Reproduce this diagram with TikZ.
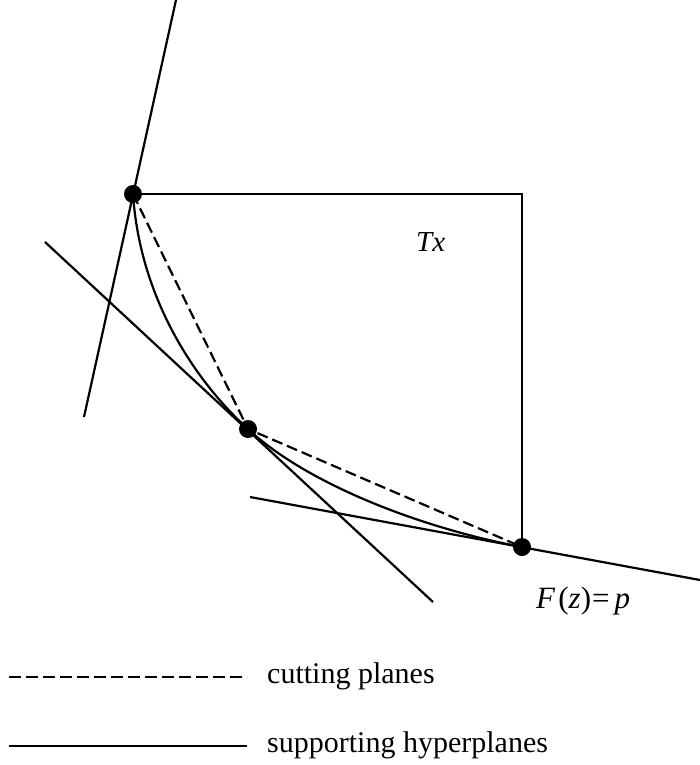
\documentclass[tikz,border=0pt]{standalone}
\usepackage{fontspec}
\setmainfont{Liberation Serif}
\begin{document}
\begin{tikzpicture}[x=1pt,y=-1pt,
  ln/.style={line width=2.2pt},
  dsh/.style={line width=2.2pt,dash pattern=on 11pt off 5pt},
  dot/.style={circle,fill=black,inner sep=0pt,minimum size=18pt},
  lbl/.style={inner sep=0pt,font=\fontsize{30}{34}\selectfont},
  mlbl/.style={inner sep=0pt,font=\fontsize{29}{32}\selectfont}]
\useasboundingbox (0,0) rectangle (700,765);
\coordinate (A) at (133,194);
\coordinate (B) at (248,429);
\coordinate (C) at (522,547);
% rectangle
\draw[ln] (A) -- (522,194) coordinate (R) -- (C);
% supporting hyperplanes
\coordinate (a1) at (176,0);
\coordinate (a2) at (84,417);
\coordinate (b1) at (45,242);
\coordinate (b2) at (433,602);
\coordinate (c1) at (250,497);
\coordinate (c2) at (700,580);
\draw[ln] (a1) -- (a2);
\draw[ln] (b1) -- (b2);
\draw[ln] (c1) -- (c2);
% curve
\draw[ln] (A) .. controls (140,300) and (197,383) .. (B)
              .. controls (307,484) and (421,528) .. (C);
% cutting planes
\draw[dsh] (A) -- (B) -- (C);
% points
\node[dot] (pA) at (A) {};
\node[dot] (pB) at (B) {};
\node[dot] (pC) at (C) {};
% labels
\node[mlbl,anchor=base west] (tx) at (416,251) {\textit{Tx}};
\node[mlbl,anchor=base west,font=\fontsize{31}{34}\selectfont] (fz) at (536,608)
  {\textit{F}\kern3pt(\textit{z})\kern1pt=\kern5pt\textit{p}};
% legend
\coordinate (l1s) at (9,677);
\coordinate (l1e) at (247,677);
\coordinate (l2s) at (9,746);
\coordinate (l2e) at (247,746);
\draw[line width=2.2pt,dash pattern=on 12pt off 5pt] (l1s) -- (l1e);
\draw[ln] (l2s) -- (l2e);
\node[lbl,anchor=base west] (cp) at (267,683) {cutting planes};
\node[lbl,anchor=base west] (sh) at (267,752) {supporting hyperplanes};
\end{tikzpicture}
\end{document}
